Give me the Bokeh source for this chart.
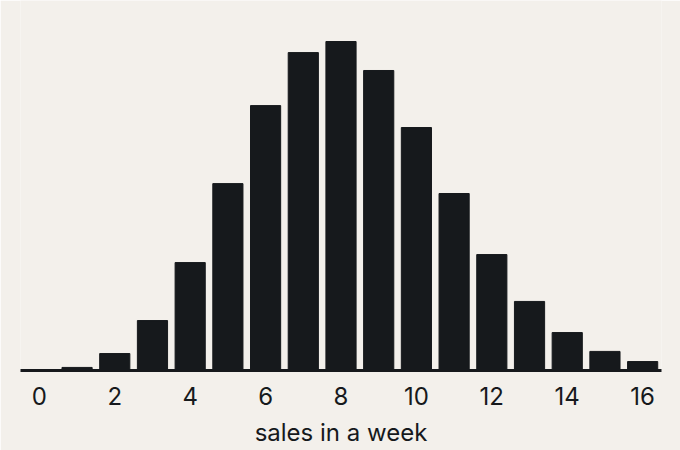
from bokeh.plotting import figure
from bokeh.models import Range1d, FixedTicker
from bokeh.embed import file_html
from bokeh.resources import INLINE

# weekly sales distribution
sales = list(range(17))
share = [0.0003, 0.0013, 0.0072, 0.0212, 0.0458, 0.0793, 0.1124, 0.1349, 0.1396,
         0.1273, 0.1031, 0.0751, 0.0492, 0.0293, 0.0161, 0.0081, 0.0038]
ticks = [0, 2, 4, 6, 8, 10, 12, 14, 16]

bg = "#f3f0eb"
ink = "#16191c"

p = figure(width=680, height=450, output_backend="svg", toolbar_location=None,
           x_range=Range1d(-0.5, 16.5), y_range=Range1d(0, 0.157),
           x_axis_label="sales in a week",
           min_border_left=20, min_border_right=19, min_border_top=0, min_border_bottom=80)

p.vbar(x=sales, top=share, width=0.8, color=ink)

p.background_fill_color = bg
p.border_fill_color = bg
p.outline_line_color = None
p.grid.visible = False
p.yaxis.visible = False

ax = p.xaxis[0]
ax.ticker = FixedTicker(ticks=ticks)
ax.axis_line_color = ink
ax.axis_line_width = 3
ax.major_tick_line_color = None
ax.minor_tick_line_color = None
ax.major_label_standoff = 10
ax.major_label_text_font = "Inter"
ax.major_label_text_font_size = "24px"
ax.major_label_text_color = ink
ax.axis_label_text_font = "Inter"
ax.axis_label_text_font_size = "24px"
ax.axis_label_text_font_style = "normal"
ax.axis_label_text_color = ink
ax.axis_label_standoff = 10

open("out.html", "w").write(file_html(p, INLINE))
